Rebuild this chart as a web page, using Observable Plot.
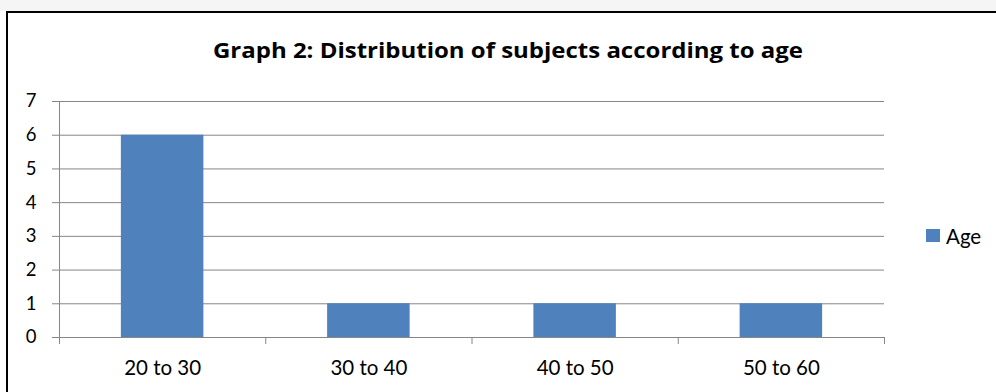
<!DOCTYPE html>
<html><head><meta charset="utf-8">
<script src="https://cdn.jsdelivr.net/npm/d3@7"></script>
<script src="https://cdn.jsdelivr.net/npm/@observablehq/plot@0.6"></script>
<style>
html,body{margin:0;padding:0;background:#fff;overflow:hidden;}
#wrap{position:relative;width:996px;height:392px;overflow:hidden;}
#topstrip{position:absolute;left:0;top:0;width:996px;height:11px;background:#f5f5f5;}
#frame{position:absolute;left:6px;top:11px;width:1010px;height:400px;border:2px solid #000;box-sizing:border-box;}
#chart{position:absolute;left:0;top:0;}
</style></head>
<body>
<div id="wrap"><div id="topstrip"></div><div id="frame"></div><div id="chart"></div></div>
<script>
const categories = ["20 to 30", "30 to 40", "40 to 50", "50 to 60"];
const counts = [6, 1, 1, 1];
const yTicks = [0, 1, 2, 3, 4, 5, 6, 7];
const seriesName = "Age";
const titleText = "Graph 2: Distribution of subjects according to age";

const data = categories.map((c, i) => ({i, c, v: counts[i]}));
const grey = "#868686";
const barColor = "#4F81BD";
const font = "Lato, 'Open Sans', sans-serif";

const chart = Plot.plot({
  width: 996, height: 392,
  marginLeft: 59, marginRight: 112, marginTop: 101, marginBottom: 55,
  style: {fontFamily: font, background: "transparent", color: "#000"},
  x: {type: "linear", domain: [0, categories.length]},
  y: {domain: [0, 7]},
  marks: [
    Plot.gridY(yTicks, {stroke: grey, strokeOpacity: 1}),
    Plot.axisY(yTicks, {tickSize: 7, tickPadding: 16, stroke: grey, fill: "#000", fontSize: 18.5, tickFormat: d => String(d), label: null}),
    Plot.ruleX([0], {stroke: grey}),
    Plot.rectY(data, {x1: d => d.i + 0.3, x2: d => d.i + 0.7, y: "v", fill: barColor}),
    Plot.ruleY([0], {stroke: grey}),
    Plot.axisX(d3.range(categories.length + 1), {tickSize: 7, tickFormat: () => "", stroke: grey, label: null}),
    Plot.axisX(categories.map((c, i) => i + 0.5), {tickSize: 0, tickPadding: 23, fill: "#000", fontSize: 20.5, tickFormat: d => categories[Math.floor(d)], label: null})
  ]
});
document.getElementById("chart").appendChild(chart);

const svg = d3.select(chart);
const t = svg.append("text")
  .attr("x", 508).attr("y", 58)
  .attr("text-anchor", "middle")
  .attr("font-family", "'Open Sans', Lato, sans-serif")
  .attr("font-weight", "bold").attr("font-size", 20.5)
  .attr("fill", "#000")
  .text(titleText);
const w = t.node().getComputedTextLength();
if (Math.abs(w - 590) > 4) t.attr("textLength", 590).attr("lengthAdjust", "spacingAndGlyphs");
const lg = svg.append("g").attr("text-anchor", "start");
lg.append("rect").attr("x", 926).attr("y", 229).attr("width", 14).attr("height", 13).attr("fill", barColor);
lg.append("text").attr("x", 946).attr("y", 244)
  .attr("font-family", font)
  .attr("font-size", 20.5).attr("fill", "#000").text(seriesName);
</script>
</body></html>
